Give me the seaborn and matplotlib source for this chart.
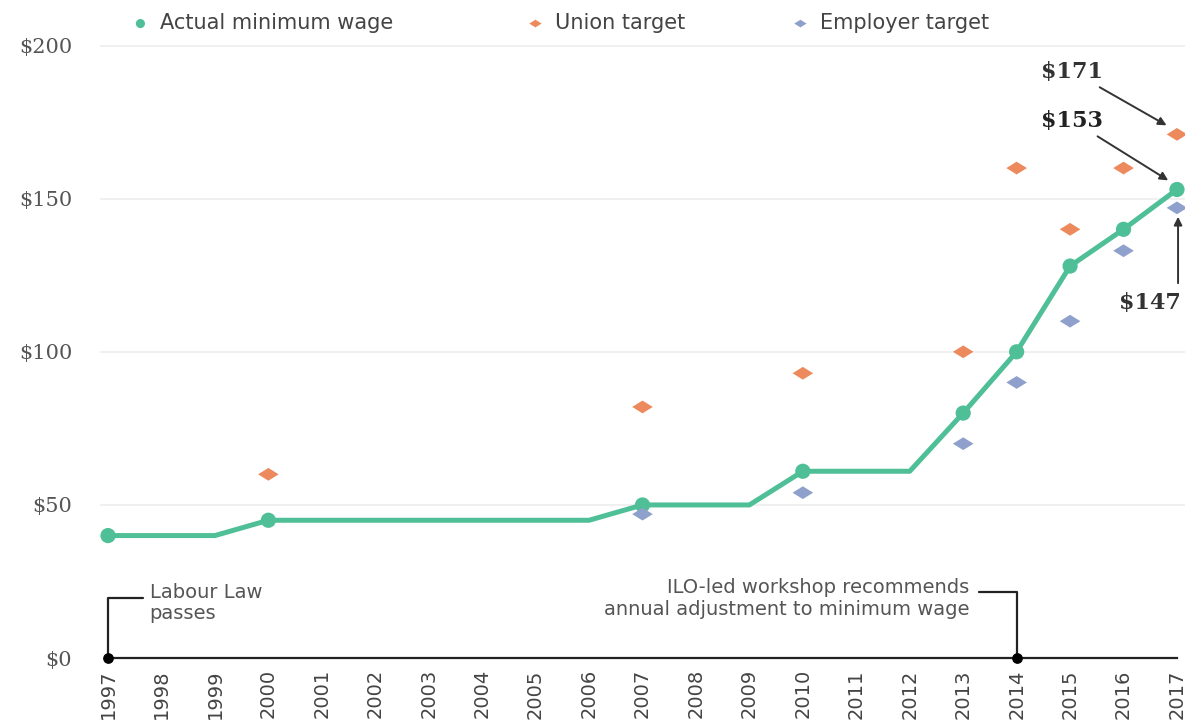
import numpy as np
import pandas as pd
import matplotlib
matplotlib.use('Agg')
import matplotlib.pyplot as plt
import seaborn as sns

years = list(range(1997, 2018))
actual = [40, 40, 40, 45, 45, 45, 45, 45, 45, 45, 50, 50, 50, 61, 61, 61, 80, 100, 128, 140, 153]
change_years = [1997, 2000, 2007, 2010, 2013, 2014, 2015, 2016, 2017]

union_years = [2000, 2007, 2010, 2013, 2014, 2015, 2016, 2017]
union = [60, 82, 93, 100, 160, 140, 160, 171]

employer_years = [2007, 2010, 2013, 2014, 2015, 2016, 2017]
employer = [47, 54, 70, 90, 110, 133, 147]

event_years = [1997, 2014]

green = '#4fbf97'
orange = '#ec8a5e'
blue = '#8fa0cc'

sns.set_style('white')
plt.rcParams['font.family'] = ['DejaVu Sans']

df = pd.DataFrame({'year': years, 'wage': actual})
dm = df[df.year.isin(change_years)]
du = pd.DataFrame({'year': union_years, 'wage': union})
de = pd.DataFrame({'year': employer_years, 'wage': employer})

fig = plt.figure(figsize=(11.85, 7.2), dpi=100)
ax = fig.add_axes([100 / 1185, 0.086, 1 - 100 / 1185, 0.872])

diamond = [(-1, 0), (0, 0.62), (1, 0), (0, -0.62)]

sns.lineplot(data=df, x='year', y='wage', color=green, linewidth=3.6, ax=ax, zorder=3)
sns.scatterplot(data=dm, x='year', y='wage', color=green, s=120, edgecolor='none',
                ax=ax, zorder=4, label='Actual minimum wage', clip_on=False)
sns.scatterplot(data=du, x='year', y='wage', color=orange, marker=diamond, s=220,
                edgecolor='none', ax=ax, zorder=4, label='Union target', clip_on=False)
sns.scatterplot(data=de, x='year', y='wage', color=blue, marker=diamond, s=220,
                edgecolor='none', ax=ax, zorder=4, label='Employer target', clip_on=False)

ax.set_xlim(1996.85, 2017.15)
ax.set_ylim(0, 205)

ax.set_yticks([0, 50, 100, 150, 200])
ax.set_yticklabels(['$0', '$50', '$100', '$150', '$200'], family='DejaVu Serif',
                   fontsize=15, color='#555555')
ax.set_xticks(years)
ax.set_xticklabels([str(y) for y in years], rotation=90, fontsize=14, color='#444444')
ax.tick_params(axis='y', length=0, pad=20)
ax.tick_params(axis='x', direction='in', length=4, width=1.2, color='#333333', pad=8)

for yv in [50, 100, 150, 200]:
    ax.axhline(yv, color='#eeeeee', linewidth=1.2, zorder=0)

for s in ['left', 'right', 'top']:
    ax.spines[s].set_visible(False)
ax.spines['bottom'].set_color('#222222')
ax.spines['bottom'].set_linewidth(1.6)
ax.spines['bottom'].set_bounds(1997, 2017)
ax.set_xlabel('')
ax.set_ylabel('')

# event markers on the axis
ax.scatter(event_years, [0, 0], color='black', s=45, zorder=6, clip_on=False)
ax.plot([1997, 1997, 1997.65], [0, 19.5, 19.5], color='#222222', linewidth=1.6, clip_on=False)
ax.text(1997.78, 24.5, 'Labour Law\npasses', fontsize=14, color='#555555',
        va='top', ha='left', linespacing=1.15)
ax.plot([2014, 2014, 2013.3], [0, 21.5, 21.5], color='#222222', linewidth=1.6, clip_on=False)
ax.text(2013.12, 26, 'ILO-led workshop recommends\nannual adjustment to minimum wage',
        fontsize=14, color='#555555', va='top', ha='right', multialignment='right',
        linespacing=1.15)

# value callouts
arrow = dict(arrowstyle='-|>', color='#333333', linewidth=1.4, mutation_scale=12)
ax.annotate('$171', xy=(2016.85, 173.5), xytext=(2015.62, 191.5), ha='right', va='center',
            family='DejaVu Serif', fontweight='bold', fontsize=16, color='#333333',
            arrowprops=arrow)
ax.annotate('$153', xy=(2016.88, 155.5), xytext=(2015.62, 175.5), ha='right', va='center',
            family='DejaVu Serif', fontweight='bold', fontsize=16, color='#222222',
            arrowprops=arrow)
ax.annotate('', xy=(2017.02, 145), xytext=(2017.02, 121.5), arrowprops=arrow,
            annotation_clip=False)
ax.text(2016.5, 116, '$147', ha='center', va='center', family='DejaVu Serif',
        fontweight='bold', fontsize=16, color='#333333')

# legend: one entry per box so the uneven spacing of the original can be kept
handles, labels = ax.get_legend_handles_labels()
ax.legend_.remove()
legend_x = [130, 525, 790]
for h, lab, lx in zip(handles, labels, legend_x):
    leg = fig.legend([h], [lab], loc='center left', bbox_to_anchor=(lx / 1185, 0.968),
                     frameon=False, fontsize=15, handlelength=1.0, handletextpad=0.45,
                     borderpad=0, borderaxespad=0, labelcolor='#444444', markerscale=0.6)

fig.savefig('out.png', dpi=100)
